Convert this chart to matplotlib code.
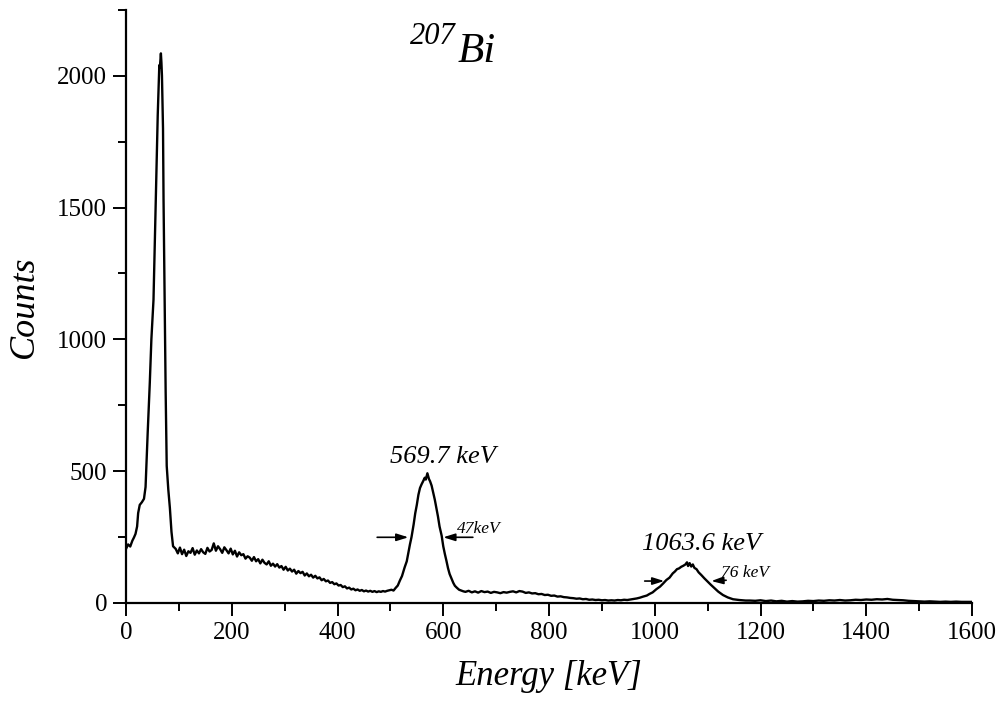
import numpy as np
import matplotlib
matplotlib.use('Agg')
import matplotlib.pyplot as plt
from matplotlib.ticker import MultipleLocator

# --- spectrum (energy in keV, counts) ---
# X-ray peak region
xray_E = [0, 4, 8, 12, 15, 18, 21, 23, 26, 30, 34, 37, 41, 45, 48, 52, 56,
          60, 62, 63, 64, 65, 66, 67, 68, 70, 71, 73, 75, 77, 80, 83, 86, 89]
xray_C = [205, 222, 214, 236, 248, 262, 290, 341, 372, 382, 395, 440, 645,
          835, 1000, 1150, 1500, 1850, 1980, 2040, 2030, 2060, 2085, 2050,
          2000, 1800, 1530, 1150, 800, 520, 430, 360, 270, 215]

# Compton continuum, 4 keV channels starting at 94 keV
cont_start, cont_step = 94, 4
cont_C = [205, 188, 210, 185, 202, 178, 196, 190, 208, 183, 199, 188, 204,
          192, 186, 209, 195, 201, 226, 198, 215, 204, 190, 211, 200, 188,
          206, 184, 198, 176, 192, 181, 185, 168, 177, 172, 160, 174, 158,
          166, 150, 164, 152, 146, 158, 141, 149, 138, 147, 134, 140, 126,
          137, 123, 130, 119, 126, 111, 121, 113, 118, 104, 112, 101, 107,
          96, 103, 93, 97, 86, 91, 82, 85, 76, 79, 71, 74, 66, 68, 60, 63,
          55, 58, 51, 54, 48, 51, 46, 49, 44, 47, 43, 46, 42, 45, 41, 44,
          42, 45, 43, 46, 48]

# 569.7 keV peak
peak1_E = [502, 506, 510, 514, 518, 522, 527, 531, 534, 537, 540, 544, 547,
           550, 553, 556, 559, 562, 565, 567, 570, 573, 575, 578, 581, 584,
           587, 590, 593, 597, 600, 603, 606, 609, 612, 616, 619, 622, 626,
           630, 634, 638]
peak1_C = [50, 47, 57, 66, 85, 102, 135, 158, 190, 222, 250, 298, 340, 372,
           410, 436, 450, 462, 475, 468, 492, 470, 462, 445, 418, 392, 360,
           328, 290, 255, 215, 186, 160, 132, 110, 90, 76, 65, 57, 50, 47, 44]

# valley between the peaks, 6 keV channels starting at 642 keV
valley_start, valley_step = 642, 6
valley_C = [42, 46, 40, 44, 39, 45, 41, 43, 38, 42, 40, 37, 41, 39, 42, 44,
            40, 45, 43, 38, 40, 36, 37, 33, 34, 30, 31, 27, 28, 24, 25, 22,
            21, 19, 18, 16, 17, 14, 15, 12, 13, 11, 12, 10, 11, 9, 10, 9,
            11, 10, 12, 11, 13, 15, 17, 20, 24]

# 1063.6 keV peak
peak2_E = [985, 990, 996, 1003, 1010, 1016, 1022, 1028, 1034, 1038, 1042,
           1046, 1050, 1054, 1058, 1061, 1063, 1066, 1069, 1072, 1075, 1079,
           1083, 1088, 1094, 1100, 1106, 1113, 1120, 1129, 1138, 1148, 1160,
           1172]
peak2_C = [28, 34, 40, 52, 62, 74, 87, 96, 112, 119, 128, 131, 137, 141,
           146, 154, 140, 151, 138, 146, 133, 128, 116, 106, 93, 81, 69, 56,
           43, 30, 21, 14, 11, 9]

# high energy tail, 10 keV channels starting at 1180 keV
tail_start, tail_step = 1180, 10
tail_C = [9, 8, 10, 7, 9, 6, 8, 5, 7, 5, 6, 8, 7, 9, 8, 10, 9, 11, 9, 10,
          12, 11, 13, 12, 14, 13, 15, 12, 11, 10, 8, 7, 6, 5, 6, 5, 4, 5,
          4, 5, 4, 4, 4]

x_ticks = [0, 200, 400, 600, 800, 1000, 1200, 1400, 1600]
y_ticks = [0, 500, 1000, 1500, 2000]

energy = np.concatenate([
    xray_E,
    cont_start + cont_step * np.arange(len(cont_C)),
    peak1_E,
    valley_start + valley_step * np.arange(len(valley_C)),
    peak2_E,
    tail_start + tail_step * np.arange(len(tail_C)),
])
counts = np.concatenate([xray_C, cont_C, peak1_C, valley_C, peak2_C, tail_C])

plt.rcParams['font.family'] = ['Liberation Serif', 'DejaVu Serif']

fig = plt.figure(figsize=(10, 7.06), dpi=100)
ax = fig.add_axes([0.126, 0.146, 0.846, 0.840])

ax.plot(energy, counts, color='black', lw=1.7)

ax.set_xlim(0, 1600)
ax.set_ylim(0, 2250)
ax.set_xticks(x_ticks)
ax.set_yticks(y_ticks)
ax.xaxis.set_minor_locator(MultipleLocator(100))
ax.yaxis.set_minor_locator(MultipleLocator(250))
ax.tick_params(which='major', direction='out', length=9.5, width=1.4,
               labelsize=18, pad=4)
ax.tick_params(which='minor', direction='out', length=5.5, width=1.4)
for side in ('top', 'right'):
    ax.spines[side].set_visible(False)
for side in ('left', 'bottom'):
    ax.spines[side].set_linewidth(1.6)

ax.set_xlabel('Energy [keV]', fontsize=25, style='italic', labelpad=12)
ax.set_ylabel('Counts', fontsize=26, style='italic', labelpad=12)

# title: 207Bi
fig.text(0.410, 0.938, '207', fontsize=22, style='italic', ha='left', va='baseline')
fig.text(0.458, 0.912, 'Bi', fontsize=31, style='italic', ha='left', va='baseline')

# peak labels
ax.text(500, 531, '569.7 keV', fontsize=19, style='italic', ha='left', va='baseline')
ax.text(975, 201, '1063.6 keV', fontsize=19, style='italic', ha='left', va='baseline')
ax.text(626, 266, '47keV', fontsize=12.5, style='italic', ha='left', va='baseline')
ax.text(1125, 99, '76 keV', fontsize=12.5, style='italic', ha='left', va='baseline')

# FWHM arrows
arrow = dict(arrowstyle='-|>,head_length=0.7,head_width=0.22', color='black',
             lw=1.2, shrinkA=0, shrinkB=0)
ax.annotate('', xy=(534, 249), xytext=(475, 249), arrowprops=arrow)
ax.annotate('', xy=(600, 249), xytext=(656, 249), arrowprops=arrow)
ax.annotate('', xy=(1018, 83), xytext=(981, 83), arrowprops=arrow)
ax.annotate('', xy=(1107, 83), xytext=(1135, 86), arrowprops=arrow)

fig.savefig('out.png', dpi=100)
